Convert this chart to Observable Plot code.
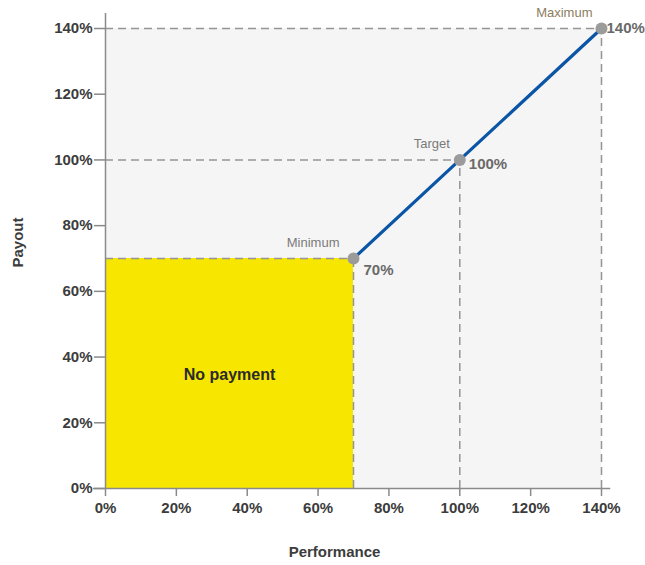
<!DOCTYPE html>
<html><head><meta charset="utf-8">
<script src="https://cdn.jsdelivr.net/npm/d3@7"></script>
<script src="https://cdn.jsdelivr.net/npm/@observablehq/plot@0.6"></script>
<style>body{margin:0;background:#fff;font-family:"Liberation Sans",Arial,sans-serif}</style>
</head><body><div id="chart"></div>
<script>
const ticks = [0, 20, 40, 60, 80, 100, 120, 140];
const pointNames = ["Minimum", "Target", "Maximum"];
const performance = [70, 100, 140];
const payout = [70, 100, 140];
const payoutLabels = ["70%", "100%", "140%"];
const noPayment = {label: "No payment", performance: 70, payout: 70, labelX: 35, labelY: 34};

const rows = pointNames.map((name, i) => ({name, performance: performance[i], payout: payout[i], label: payoutLabels[i]}));
const lo = d3.min(ticks), hi = d3.max(ticks);
const gray = "#9b9b9b";
const dash = "8,5";

const nameStyle = {fontSize: 13, fill: "#7a7a7a", textAnchor: "end"};
const valStyle = {fontSize: 15, fontWeight: "bold", fill: "#6a6a6a", textAnchor: "start"};

const chart = Plot.plot({
  width: 645, height: 565,
  marginLeft: 105, marginRight: 44, marginTop: 28, marginBottom: 77,
  style: {fontFamily: "Liberation Sans, Arial, sans-serif", background: "#fff"},
  x: {domain: [lo, hi]},
  y: {domain: [lo, hi]},
  marks: [
    Plot.rect([{}], {x1: lo, x2: hi, y1: lo, y2: hi, fill: "#f5f5f5"}),
    Plot.rect([noPayment], {x1: lo, x2: "performance", y1: lo, y2: "payout", fill: "#f7e600"}),
    Plot.ruleY(rows, {y: "payout", x1: lo, x2: "performance", stroke: "#959595", strokeWidth: 1.5, strokeDasharray: dash}),
    Plot.ruleX(rows, {x: "performance", y1: lo, y2: "payout", stroke: "#959595", strokeWidth: 1.5, strokeDasharray: dash}),
    Plot.ruleY([lo], {x1: lo - 3.4, x2: hi + 2.6, stroke: "#8a8a8a", strokeWidth: 1.5}),
    Plot.ruleX([lo], {y1: lo, y2: hi + 4.6, stroke: "#8a8a8a", strokeWidth: 1.5}),
    Plot.axisX(ticks, {tickSize: 8, tickPadding: 6, tickFormat: d => d + "%", fontSize: 15, fontWeight: "bold", color: "#3c3c3c", stroke: "#8a8a8a", strokeWidth: 1.5, label: null}),
    Plot.axisY(ticks, {tickSize: 11, tickPadding: 2, tickFormat: d => d + "%", fontSize: 15, fontWeight: "bold", color: "#3c3c3c", stroke: "#8a8a8a", strokeWidth: 1.5, label: null}),
    Plot.line(rows, {x: "performance", y: "payout", stroke: "#0a55a6", strokeWidth: 3.2}),
    Plot.dot(rows, {x: "performance", y: "payout", r: 6, fill: gray}),
    Plot.text([rows[0]], {x: "performance", y: "payout", text: "name", dx: -14, dy: -16, ...nameStyle}),
    Plot.text([rows[1]], {x: "performance", y: "payout", text: "name", dx: -10, dy: -16, ...nameStyle}),
    Plot.text([rows[2]], {x: "performance", y: "payout", text: "name", dx: -9, dy: -16, ...nameStyle, fill: "#8c7d5e"}),
    Plot.text([rows[0]], {x: "performance", y: "payout", text: "label", dx: 10, dy: 12, ...valStyle}),
    Plot.text([rows[1]], {x: "performance", y: "payout", text: "label", dx: 9, dy: 4, ...valStyle}),
    Plot.text([rows[2]], {x: "performance", y: "payout", text: "label", dx: 5, dy: 0, ...valStyle}),
    Plot.text([noPayment], {x: "labelX", y: "labelY", text: "label", fontSize: 16, fontWeight: "bold", fill: "#2a2a2a", dy: -2}),
    Plot.text(["Payout"], {frameAnchor: "left", text: d => d, rotate: -90, dx: -87, dy: 9, fontSize: 15, fontWeight: "bold", fill: "#3c3c3c"}),
    Plot.text(["Performance"], {frameAnchor: "bottom", text: d => d, dx: -19, dy: 68, fontSize: 15, fontWeight: "bold", fill: "#3c3c3c"})
  ]
});
document.getElementById("chart").append(chart);
</script>
</body></html>
